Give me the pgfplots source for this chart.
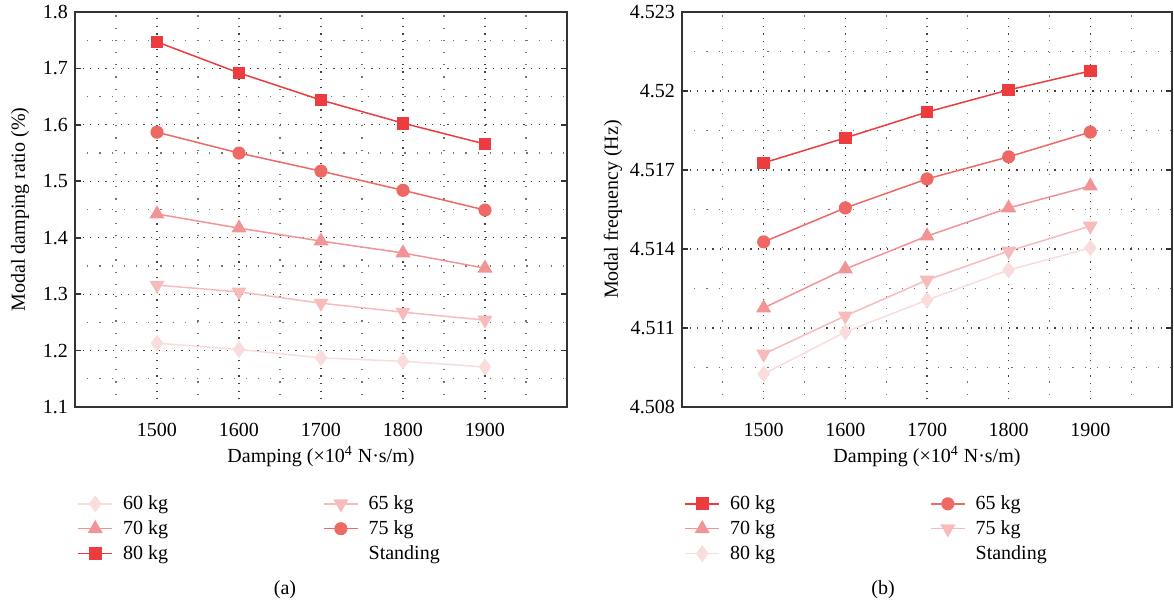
\documentclass[border=0pt]{standalone}
\usepackage{fontspec}
\setmainfont{Liberation Serif}
\usepackage{pgfplots}
\pgfplotsset{compat=1.18}
\definecolor{cA}{RGB}{237,60,64}
\definecolor{cB}{RGB}{238,104,100}
\definecolor{cC}{RGB}{242,147,150}
\definecolor{cD}{RGB}{247,187,187}
\definecolor{cE}{RGB}{250,220,220}
\pgfplotsset{
  mystyle/.style={
    scale only axis, width=246pt, height=197.5pt,
    xmin=1400, xmax=2000,
    xtick={1500,1600,1700,1800,1900},
    minor xtick={1450,1550,1650,1750,1850,1950},
    grid=both,
    major grid style={draw=black!75, line width=0.6pt, dash pattern=on 0.6pt off 3.2pt},
    minor grid style={draw=black!55, line width=0.6pt, dash pattern=on 0.6pt off 5.5pt},
    axis line style={draw=black!80, line width=0.8pt},
    major tick length=3pt, minor tick length=0pt,
    tick style={draw=black!80, line width=0.8pt},
    x tick style={draw=none},
    tick align=inside,
    /pgf/number format/assume math mode=true,
    /pgf/number format/1000 sep={},
    scaled ticks=false,
    ticklabel style={font=\fontsize{10}{12}\selectfont},
    xticklabel style={yshift=-4.5pt},
    label style={font=\fontsize{10}{12}\selectfont},
    xlabel style={yshift=2pt},
    xlabel={Damping (\texttimes10\textsuperscript{4} N\textperiodcentered s/m)},
    legend columns=2,
    legend cell align=left,
    legend style={at={(0,0)}, anchor=north west, yshift=-40pt, xshift=-2pt, draw=none, fill=none,
      font=\fontsize{10}{12}\selectfont,
      /tikz/every odd column/.append style={column sep=3pt},
      /tikz/every even column/.append style={column sep=75.5pt}},
    every axis plot/.append style={line width=0.75pt},
  },
  sA/.style={cA, mark=square*, mark size=2.8pt, mark options={solid, fill=cA, draw=cA}},
  sB/.style={cB, mark=*, mark size=2.9pt, mark options={solid, fill=cB, draw=cB}},
  sC/.style={cC, mark=triangle*, mark size=3.6pt, mark options={solid, fill=cC, draw=cC}},
  sD/.style={cD, mark=triangle*, mark size=3.6pt, mark options={solid, fill=cD, draw=cD, rotate=180}},
  sE/.style={cE, mark=diamond*, mark size=3.6pt, mark options={solid, fill=cE, draw=cE}},
}
\begin{document}
\begin{tikzpicture}
\path[use as bounding box] (0,0) rectangle (587pt,304pt);
\begin{axis}[mystyle, at={(37.5pt,100.5pt)}, anchor=south west,
  ymin=1.1, ymax=1.8,
  ytick={1.1,1.2,1.3,1.4,1.5,1.6,1.7,1.8},
  minor ytick={1.15,1.25,1.35,1.45,1.55,1.65,1.75},
  yticklabel style={/pgf/number format/fixed, /pgf/number format/precision=1},
  ylabel={Modal damping ratio (\%)}]
\addplot[sE] coordinates {(1500,1.213) (1600,1.202) (1700,1.187) (1800,1.181) (1900,1.171)};
\addlegendentry{60 kg}
\addplot[sD] coordinates {(1500,1.316) (1600,1.304) (1700,1.284) (1800,1.268) (1900,1.254)};
\addlegendentry{65 kg}
\addplot[sC] coordinates {(1500,1.442) (1600,1.417) (1700,1.394) (1800,1.373) (1900,1.346)};
\addlegendentry{70 kg}
\addplot[sB] coordinates {(1500,1.587) (1600,1.550) (1700,1.518) (1800,1.484) (1900,1.449)};
\addlegendentry{75 kg}
\addplot[sA] coordinates {(1500,1.747) (1600,1.692) (1700,1.644) (1800,1.603) (1900,1.566)};
\addlegendentry{80 kg}
\addlegendimage{line legend, draw=white, opacity=0}
\addlegendentry{Standing}
\end{axis}
\begin{axis}[mystyle, at={(341pt,100.5pt)}, anchor=south west, width=245pt,
  ymin=4.508, ymax=4.523,
  ytick={4.508,4.511,4.514,4.517,4.520,4.523},
  minor ytick={4.5095,4.5125,4.5155,4.5185,4.5215},
  yticklabel style={/pgf/number format/fixed, /pgf/number format/precision=3},
  ylabel style={yshift=-3pt},
  ylabel={Modal frequency (Hz)}]
\addplot[sA] coordinates {(1500,4.51727) (1600,4.51822) (1700,4.51920) (1800,4.52004) (1900,4.52076)};
\addlegendentry{60 kg}
\addplot[sB] coordinates {(1500,4.51427) (1600,4.51556) (1700,4.51666) (1800,4.51750) (1900,4.51844)};
\addlegendentry{65 kg}
\addplot[sC] coordinates {(1500,4.51176) (1600,4.51324) (1700,4.51449) (1800,4.51556) (1900,4.51639)};
\addlegendentry{70 kg}
\addplot[sD] coordinates {(1500,4.51001) (1600,4.51146) (1700,4.51282) (1800,4.51392) (1900,4.51487)};
\addlegendentry{75 kg}
\addplot[sE] coordinates {(1500,4.50925) (1600,4.51085) (1700,4.51206) (1800,4.51320) (1900,4.51404)};
\addlegendentry{80 kg}
\addlegendimage{line legend, draw=white, opacity=0}
\addlegendentry{Standing}
\end{axis}
\node[font=\fontsize{10}{12}\selectfont] at (142.5pt,9pt) {(a)};
\node[font=\fontsize{10}{12}\selectfont] at (441.5pt,9pt) {(b)};
\end{tikzpicture}
\end{document}
